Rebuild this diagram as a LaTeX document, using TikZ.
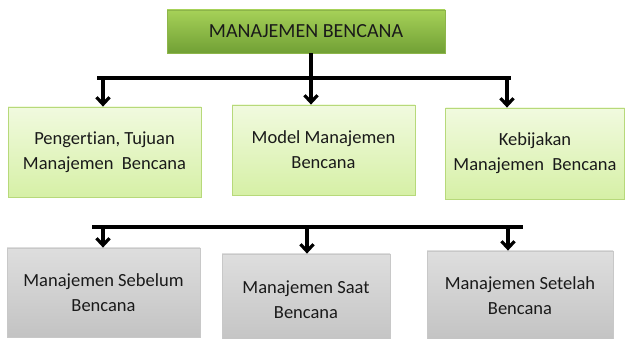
\documentclass[tikz,border=0pt]{standalone}
\usepackage{fontspec}
\setmainfont[Ligatures={NoCommon}]{Carlito}
\usetikzlibrary{arrows.meta,shadows}
\definecolor{topA}{HTML}{A6D158}
\definecolor{topB}{HTML}{71A035}
\definecolor{topLine}{HTML}{8DB54A}
\definecolor{lgA}{HTML}{F1FADF}
\definecolor{lgB}{HTML}{D6F0A6}
\definecolor{lgLine}{HTML}{B7D97A}
\definecolor{gyA}{HTML}{DEDEDE}
\definecolor{gyB}{HTML}{C3C3C3}
\definecolor{gyLine}{HTML}{C8C8C8}
\definecolor{txt}{HTML}{1A1A1A}
\tikzset{
  basebox/.style={draw, line width=0.8pt, align=center, inner sep=0pt,
    text=txt, font=\fontsize{18.5}{25}\selectfont,
    drop shadow={shadow xshift=1.2pt, shadow yshift=-1.5pt, opacity=0.25, fill=black}},
  headbox/.style={basebox, draw=topLine, top color=topA, bottom color=topB,
    minimum width=278pt, minimum height=43pt, font=\fontsize{20}{24}\selectfont},
  greenbox/.style={basebox, draw=lgLine, top color=lgA, bottom color=lgB},
  greybox/.style={basebox, draw=gyLine, top color=gyA, bottom color=gyB},
  bar/.style={line width=3.2pt, black},
  arr/.style={line width=3.2pt, black, -{Straight Barb[length=7pt,width=13pt,line width=3.2pt]}}
}
\begin{document}
\begin{tikzpicture}[x=1pt,y=-1pt]
  \useasboundingbox (0,0) rectangle (625,339);

  % heading
  \node[headbox] (head) at (306,31.5) {MANAJEMEN BENCANA};

  % first row of topics
  \node[greenbox, minimum width=193pt, minimum height=90pt] (peng) at (104.5,152)
    {Pengertian, Tujuan\\Manajemen~ Bencana};
  \node[greenbox, minimum width=183pt, minimum height=90pt] (model) at (323.5,150)
    {Model Manajemen\\Bencana};
  \node[greenbox, minimum width=179pt, minimum height=91pt] (kebi) at (535,153.5)
    {Kebijakan\\Manajemen~ Bencana};

  % second row of topics
  \node[greybox, minimum width=193pt, minimum height=89pt] (sebelum) at (103.5,292.5)
    {Manajemen Sebelum\\Bencana};
  \node[greybox, minimum width=168pt, minimum height=91pt] (saat) at (306,299.5)
    {Manajemen Saat\\Bencana};
  \node[greybox, minimum width=186pt, minimum height=90pt] (setelah) at (520,296)
    {Manajemen Setelah\\Bencana};

  % upper connector bar
  \coordinate (b1L) at (97,78);
  \coordinate (b1R) at (511,78);
  \coordinate (t1) at (103,78);
  \coordinate (t2) at (311,78);
  \coordinate (t3) at (507,78);
  \draw[bar] (b1L) -- (b1R);
  \draw[bar] (head.south -| t2) -- (t2);
  \draw[arr] (t1) -- (t1 |- peng.north);
  \draw[arr] (t2) -- (t2 |- model.north);
  \draw[arr] (t3) -- (t3 |- kebi.north);

  % lower connector bar
  \coordinate (b2L) at (92,227);
  \coordinate (b2R) at (523,227);
  \coordinate (u1) at (103,227);
  \coordinate (u2) at (307,227);
  \coordinate (u3) at (508,227);
  \draw[bar] (b2L) -- (b2R);
  \draw[arr] (u1) -- (u1 |- sebelum.north);
  \draw[arr] (u2) -- (u2 |- saat.north);
  \draw[arr] (u3) -- (u3 |- setelah.north);
\end{tikzpicture}
\end{document}
